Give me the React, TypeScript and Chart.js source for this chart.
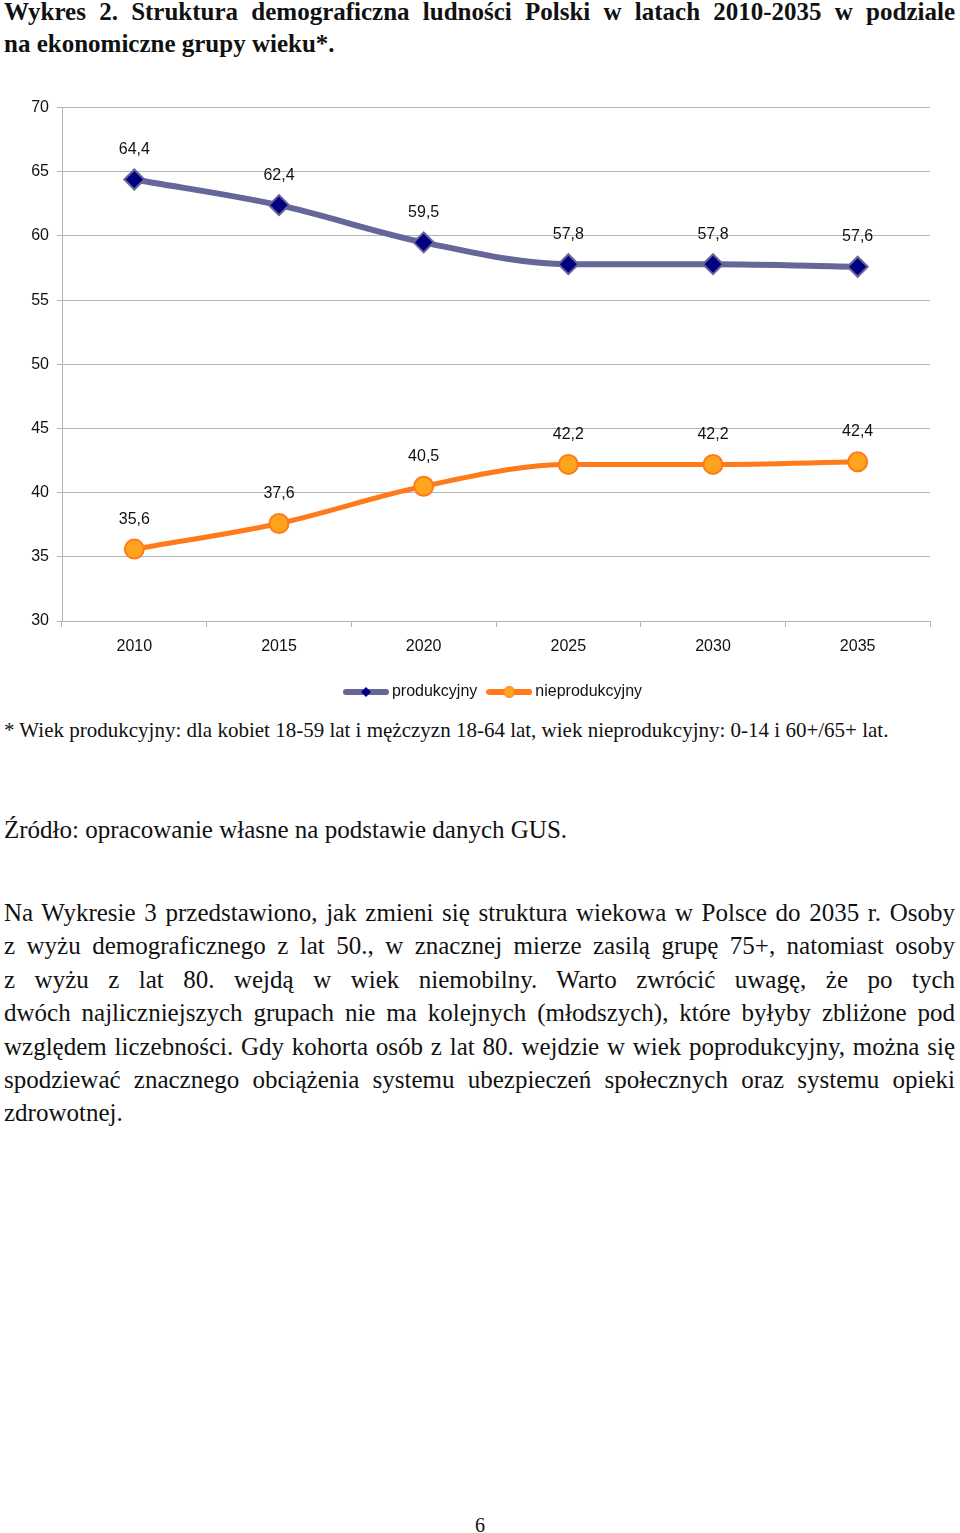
import React, { useEffect, useRef } from "react";
import { Chart, registerables } from "chart.js";

Chart.register(...registerables);

const years = ["2010", "2015", "2020", "2025", "2030", "2035"];
const produkcyjny = [64.4, 62.4, 59.5, 57.8, 57.8, 57.6];
const nieprodukcyjny = [35.6, 37.6, 40.5, 42.2, 42.2, 42.4];
const seriesNames = ["produkcyjny", "nieprodukcyjny"];

const PROD_LINE = "#666699";
const PROD_FILL = "#000080";
const NIE_LINE = "#ff7a1a";
const NIE_FILL = "#ffa41c";
const GRID = "#b3b3b3";
const SANS = "'Liberation Sans', Arial, sans-serif";

function makeLegendIcon(kind: "diamond" | "circle"): HTMLCanvasElement {
  const c = document.createElement("canvas");
  c.width = 46;
  c.height = 14;
  const ctx = c.getContext("2d")!;
  ctx.lineCap = "round";
  ctx.lineWidth = 6;
  ctx.strokeStyle = kind === "diamond" ? PROD_LINE : NIE_LINE;
  ctx.beginPath();
  ctx.moveTo(3, 7);
  ctx.lineTo(43, 7);
  ctx.stroke();
  if (kind === "diamond") {
    ctx.fillStyle = PROD_FILL;
    ctx.beginPath();
    ctx.moveTo(23, 2);
    ctx.lineTo(28, 7);
    ctx.lineTo(23, 12);
    ctx.lineTo(18, 7);
    ctx.closePath();
    ctx.fill();
  } else {
    ctx.fillStyle = NIE_FILL;
    ctx.strokeStyle = NIE_LINE;
    ctx.lineWidth = 1;
    ctx.beginPath();
    ctx.arc(23, 7, 5.5, 0, Math.PI * 2);
    ctx.fill();
    ctx.stroke();
  }
  return c;
}

const valueLabels = {
  id: "valueLabels",
  afterDatasetsDraw(chart: any) {
    const ctx = chart.ctx;
    ctx.save();
    ctx.font = "16px " + SANS;
    ctx.fillStyle = "#111111";
    ctx.textAlign = "center";
    ctx.textBaseline = "middle";
    chart.data.datasets.forEach((ds: any, i: number) => {
      const meta = chart.getDatasetMeta(i);
      meta.data.forEach((pt: any, j: number) => {
        const v = ds.data[j] as number;
        ctx.fillText(v.toFixed(1).replace(".", ","), pt.x, pt.y - 30);
      });
    });
    ctx.restore();
  },
};

function LineChart() {
  const ref = useRef<HTMLCanvasElement>(null);
  useEffect(() => {
    const icons = [makeLegendIcon("diamond"), makeLegendIcon("circle")];
    const chart = new Chart(ref.current!, {
      type: "line",
      data: {
        labels: years,
        datasets: [
          {
            label: seriesNames[0],
            data: produkcyjny,
            borderColor: PROD_LINE,
            borderWidth: 6,
            pointStyle: "rectRot",
            pointRadius: 10,
            pointBackgroundColor: PROD_FILL,
            pointBorderColor: PROD_LINE,
            pointBorderWidth: 2,
            cubicInterpolationMode: "monotone",
            fill: false,
            yAxisID: "y",
          },
          {
            label: seriesNames[1],
            data: nieprodukcyjny,
            borderColor: NIE_LINE,
            borderWidth: 5,
            pointStyle: "circle",
            pointRadius: 9.5,
            pointBackgroundColor: NIE_FILL,
            pointBorderColor: NIE_LINE,
            pointBorderWidth: 2,
            cubicInterpolationMode: "monotone",
            fill: false,
            yAxisID: "y",
          },
        ],
      },
      options: {
        animation: false,
        responsive: false,
        maintainAspectRatio: false,
        layout: { padding: { top: 17, right: 0, left: 30, bottom: 0 } },
        plugins: {
          tooltip: { enabled: false },
          legend: {
            position: "bottom",
            labels: {
              usePointStyle: true,
              pointStyleWidth: 36,
              boxHeight: 14,
              padding: 14,
              color: "#111111",
              font: { family: SANS, size: 16 },
              generateLabels: (ch: any) =>
                ch.data.datasets.map((ds: any, i: number) => ({
                  text: ds.label,
                  fillStyle: "transparent",
                  strokeStyle: "transparent",
                  lineWidth: 0,
                  pointStyle: icons[i],
                  hidden: false,
                  datasetIndex: i,
                  fontColor: "#111111",
                })),
            },
          },
        },
        scales: {
          x: {
            offset: true,
            grid: {
              offset: true,
              drawOnChartArea: false,
              drawTicks: true,
              tickLength: 6,
              color: GRID,
            },
            border: { color: GRID },
            ticks: {
              color: "#111111",
              padding: 10,
              maxRotation: 0,
              font: { family: SANS, size: 16 },
            },
            afterFit: (s: any) => {
              s.height = 49;
            },
          },
          y: {
            min: 30,
            max: 70,
            ticks: {
              stepSize: 5,
              color: "#111111",
              padding: 8,
              font: { family: SANS, size: 16 },
            },
            grid: { color: GRID, tickLength: 5, drawTicks: true },
            border: { color: GRID },
            afterFit: (s: any) => {
              s.width = 32;
            },
          },
          yRight: {
            position: "right",
            min: 30,
            max: 70,
            ticks: { display: false },
            grid: { drawOnChartArea: false, drawTicks: false },
            border: { display: false },
            afterFit: (s: any) => {
              s.width = 30;
            },
          },
        },
      },
      plugins: [valueLabels],
    });
    return () => chart.destroy();
  }, []);
  return <canvas ref={ref} width={960} height={620} style={{ width: 960, height: 620, display: "block" }} />;
}

const serif = "'Liberation Serif', 'Times New Roman', serif";

const paragraphLines = [
  "Na Wykresie 3 przedstawiono, jak zmieni się struktura wiekowa w Polsce do 2035 r. Osoby",
  "z\u00a0wyżu demograficznego z lat 50., w znacznej mierze zasilą grupę 75+, natomiast osoby",
  "z\u00a0wyżu z lat 80. wejdą w wiek niemobilny. Warto zwrócić uwagę, że po tych",
  "dwóch\u00a0najliczniejszych grupach nie ma kolejnych (młodszych), które byłyby zbliżone pod",
  "względem liczebności. Gdy kohorta osób z lat 80. wejdzie w wiek poprodukcyjny, można się",
  "spodziewać znacznego obciążenia systemu ubezpieczeń społecznych oraz systemu opieki",
];

export default function App() {
  useEffect(() => {
    document.body.style.margin = "0";
  }, []);
  const justify: React.CSSProperties = {
    textAlign: "justify",
    textAlignLast: "justify",
    whiteSpace: "nowrap",
  };
  return (
    <div style={{ position: "relative", width: 960, height: 1533, fontFamily: serif, color: "#111", background: "#fff", overflow: "hidden" }}>
      <div style={{ position: "absolute", left: 4, top: -4, width: 951, fontWeight: "bold", fontSize: 25, lineHeight: "32px" }}>
        <div style={justify}>Wykres 2. Struktura demograficzna ludności Polski w latach 2010-2035 w podziale</div>
        <div>na ekonomiczne grupy wieku*.</div>
      </div>
      <div style={{ position: "absolute", left: 0, top: 90 }}>
        <LineChart />
      </div>
      <div style={{ position: "absolute", left: 4, top: 718, fontSize: 21, lineHeight: "24px", whiteSpace: "nowrap" }}>
        * Wiek produkcyjny: dla kobiet 18-59 lat i mężczyzn 18-64 lat, wiek nieprodukcyjny: 0-14 i 60+/65+ lat.
      </div>
      <div style={{ position: "absolute", left: 4, top: 815, fontSize: 25, lineHeight: "30px", whiteSpace: "nowrap" }}>
        Źródło: opracowanie własne na podstawie danych GUS.
      </div>
      <div style={{ position: "absolute", left: 4, top: 896, width: 951, fontSize: 25, lineHeight: "33.4px" }}>
        {paragraphLines.map((l, i) => (
          <div key={i} style={justify}>{l}</div>
        ))}
        <div>zdrowotnej.</div>
      </div>
      <div style={{ position: "absolute", left: 0, width: 960, top: 1512, textAlign: "center", fontSize: 20, lineHeight: "26px" }}>6</div>
    </div>
  );
}
